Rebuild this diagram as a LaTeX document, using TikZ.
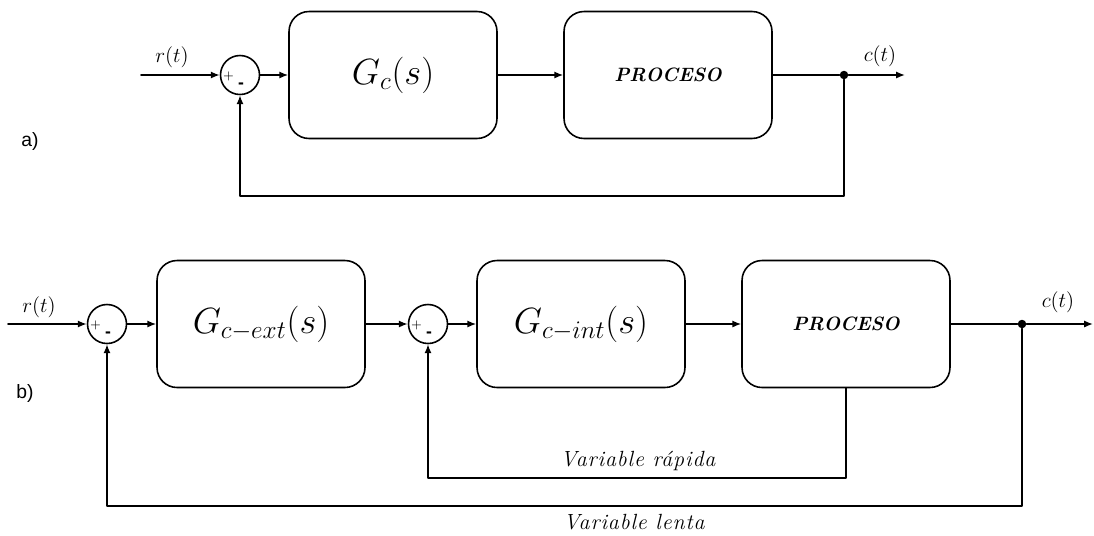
\documentclass[tikz,border=0pt]{standalone}
\usepackage{amsmath,amssymb}
\usepackage{fontspec}
\newfontfamily\tagfont{Liberation Sans}
\newfontfamily\notefont[LetterSpace=4]{Latin Modern Roman}
\usepackage{tikz}
\usetikzlibrary{arrows.meta,positioning}
\tikzset{
  block/.style={
    draw, line width=0.9pt,
    rounded corners=0.4cm,
    minimum width=4.16cm, minimum height=2.54cm,
    inner sep=0pt
  },
  sumnode/.style={draw, line width=0.9pt, circle, minimum size=0.78cm, inner sep=0pt},
  wire/.style={line width=0.9pt},
  conn/.style={wire, -{Latex[length=5pt,width=4pt]}},
  tap/.style={circle, fill, inner sep=0pt, minimum size=0.17cm},
  sig/.style={font=\fontsize{12.5}{15}\selectfont},
  bigtf/.style={font=\fontsize{22}{26}\selectfont},
  plant/.style={font=\fontsize{11}{13}\selectfont\bfseries\itshape},
  note/.style={font=\notefont\itshape\fontsize{12.5}{15}\selectfont},
  tag/.style={font=\tagfont\fontsize{11}{13}\selectfont}
}
\newcommand{\SumSigns}[1]{%
  % #1 = summing junction: + on the left, - under the centre
  \node[font=\fontsize{7}{8}\selectfont] at ([xshift=-0.23cm,yshift=-0.03cm]#1.center) {$+$};
  \node[font=\tagfont\bfseries\fontsize{10}{10}\selectfont] at ([xshift=0.02cm,yshift=-0.21cm]#1.center) {-};
}

\begin{document}
\begin{tikzpicture}[x=0.02cm, y=-0.02cm, line cap=round, line join=round]
  \useasboundingbox (0,0) rectangle (1094,535);

  % a) single loop
  \coordinate (rA) at (141,75);
  \node[sumnode] (sA) at (240,75) {};
  \node[block, bigtf] (gA) at (393,75) {$G_c(s)$};
  \node[block, plant] (pA) at (668,75) {PROCESO};
  \node[tap] (dA) at (844,75) {};
  \coordinate (cA) at (905,75);
  \coordinate (fA) at (844,196);
  \SumSigns{sA}

  \draw[conn] (rA) -- (sA);
  \draw[conn] (sA) -- (gA);
  \draw[conn] (gA) -- (pA);
  \draw[wire] (pA) -- (dA);
  \draw[conn] (dA) -- (cA);
  \draw[conn] (dA) -- (fA) -| (sA);

  \node[sig] (rtA) at (172,57) {$r(t)$};
  \node[sig] (ctA) at (880,56) {$c(t)$};
  \node[tag] (tagA) at (30,141) {a)};

  % b) cascade: inner loop inside the outer one
  \coordinate (rB) at (8,324);
  \node[sumnode] (s1) at (107,324) {};
  \node[block, bigtf] (gExt) at (261,324) {$G_{c-ext}(s)$};
  \node[sumnode] (s2) at (428,324) {};
  \node[block, bigtf] (gInt) at (581,324) {$G_{c-int}(s)$};
  \node[block, plant] (pB) at (846,324) {PROCESO};
  \node[tap] (dB) at (1022,324) {};
  \coordinate (cB) at (1093,324);
  \coordinate (fIn) at (846,478);
  \coordinate (fOut) at (1022,506);
  \SumSigns{s1}
  \SumSigns{s2}

  \draw[conn] (rB) -- (s1);
  \draw[conn] (s1) -- (gExt);
  \draw[conn] (gExt) -- (s2);
  \draw[conn] (s2) -- (gInt);
  \draw[conn] (gInt) -- (pB);
  \draw[wire] (pB) -- (dB);
  \draw[conn] (dB) -- (cB);
  \draw[conn] (pB) -- (fIn) -| (s2);
  \draw[conn] (dB) -- (fOut) -| (s1);

  \node[sig] (rtB) at (39,307) {$r(t)$};
  \node[sig] (ctB) at (1058,302) {$c(t)$};
  \node[note] (fast) at (638,461) {Variable rápida};
  \node[note] (slow) at (634,522) {Variable lenta};
  \node[tag] (tagB) at (25,393) {b)};
\end{tikzpicture}
\end{document}
